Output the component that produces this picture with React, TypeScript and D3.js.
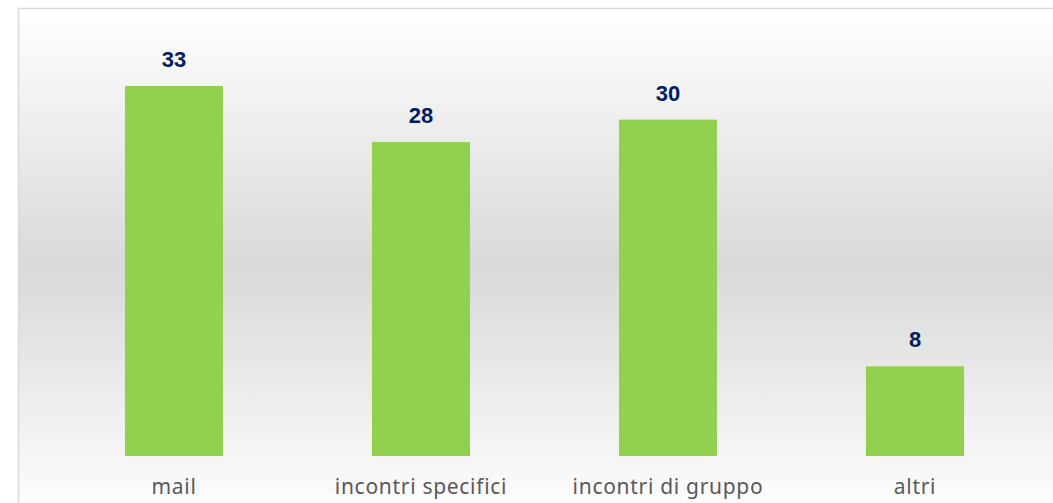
import React from "react";
import * as d3 from "d3";

const categories = ["mail", "incontri specifici", "incontri di gruppo", "altri"];
const values = [33, 28, 30, 8];

const W = 1053;
const H = 503;

export default function App() {
  const x = d3
    .scaleBand<string>()
    .domain(categories)
    .range([50.5, 1038.5])
    .paddingInner(0.603)
    .paddingOuter(0.3015);
  const y = d3.scaleLinear().domain([0, 33]).range([456, 86]);

  return (
    <svg
      width={W}
      height={H}
      style={{ position: "absolute", left: 0, top: 0, display: "block" }}
    >
      <defs>
        <linearGradient id="bg" x1="0" y1="0" x2="0" y2="1">
          <stop offset="0" stopColor="#ffffff" />
          <stop offset="0.5" stopColor="#d9d9d9" />
          <stop offset="1" stopColor="#ffffff" />
        </linearGradient>
      </defs>
      <rect x={0} y={0} width={W} height={H} fill="#ffffff" />
      <rect
        x={18.5}
        y={8.5}
        width={W + 10}
        height={H + 10}
        fill="url(#bg)"
        stroke="#d9d9d9"
        strokeWidth={1.5}
      />
      {categories.map((c, i) => (
        <g key={c}>
          <rect
            x={x(c)!}
            y={y(values[i])}
            width={x.bandwidth()}
            height={y(0) - y(values[i])}
            fill="#92d050"
          />
          <text
            x={x(c)! + x.bandwidth() / 2}
            y={y(values[i]) - 19}
            textAnchor="middle"
            fontFamily="Liberation Sans, Arial, sans-serif"
            fontWeight="bold"
            fontSize={22}
            fill="#002060"
          >
            {values[i]}
          </text>
          <text
            x={x(c)! + x.bandwidth() / 2}
            y={494}
            textAnchor="middle"
            fontFamily="Noto Sans, sans-serif"
            fontSize={21}
            letterSpacing={0.7}
            fill="#595959"
          >
            {c}
          </text>
        </g>
      ))}
    </svg>
  );
}
